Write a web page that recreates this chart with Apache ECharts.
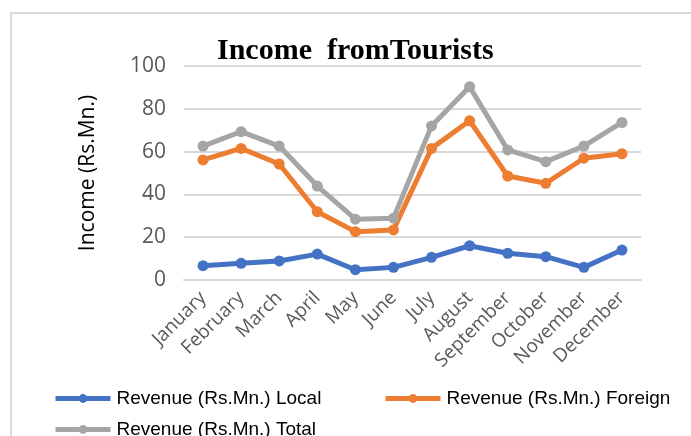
<!DOCTYPE html>
<html>
<head>
<meta charset="utf-8">
<script src="https://cdn.jsdelivr.net/npm/echarts@6/dist/echarts.min.js"></script>
<style>
  html, body { margin: 0; padding: 0; background: #fff; }
  #chart { width: 691px; height: 436px; }
</style>
</head>
<body>
<div id="chart"></div>
<script>
var months = ['January', 'February', 'March', 'April', 'May', 'June', 'July', 'August', 'September', 'October', 'November', 'December'];
var localRevenue = [6.7, 7.8, 8.9, 12.1, 4.8, 5.9, 10.6, 16.0, 12.5, 10.9, 5.9, 14.0];
var foreignRevenue = [56.1, 61.5, 54.2, 31.9, 22.6, 23.4, 61.5, 74.4, 48.6, 45.2, 56.9, 59.0];
var totalRevenue = [62.6, 69.3, 62.6, 43.9, 28.4, 28.9, 72.0, 90.3, 60.8, 55.3, 62.6, 73.6];
var seriesNames = ['Revenue (Rs.Mn.) Local', 'Revenue (Rs.Mn.) Foreign', 'Revenue (Rs.Mn.) Total'];
var seriesColors = ['#4472c4', '#ed7d31', '#a5a5a5'];

var chart = echarts.init(document.getElementById('chart'));
var sansFont = "'Liberation Sans', Arial, sans-serif";

function makeSeries(i, values) {
    return {
        name: seriesNames[i],
        type: 'line',
        data: values,
        symbol: 'circle',
        symbolSize: 11,
        color: seriesColors[i],
        lineStyle: { width: 5, color: seriesColors[i] },
        itemStyle: { color: seriesColors[i] },
        animation: false
    };
}

function makeLegend(name, left, top) {
    return {
        data: [name],
        left: left,
        top: top,
        padding: 0,
        itemWidth: 55,
        itemHeight: 11,
        itemGap: 6,
        lineStyle: { width: 5 },
        textStyle: { fontFamily: sansFont, fontSize: 19, color: '#000', padding: [0, 0, 0, 1] }
    };
}

var option = {
    backgroundColor: '#fff',
    animation: false,
    graphic: [{
        type: 'rect',
        shape: { x: 11, y: 13, width: 720, height: 500 },
        style: { fill: 'none', stroke: '#d9d9d9', lineWidth: 2 },
        silent: true
    }],
    title: {
        text: 'Income  fromTourists',
        left: 217,
        top: 36,
        padding: 0,
        textStyle: {
            fontFamily: "'Liberation Serif', serif",
            fontWeight: 'bold',
            fontSize: 30,
            color: '#000'
        }
    },
    legend: [
        makeLegend(seriesNames[0], 53, 389),
        makeLegend(seriesNames[1], 383, 389),
        makeLegend(seriesNames[2], 53, 420)
    ],
    grid: { left: 184, right: 50, top: 66, bottom: 156 },
    xAxis: {
        type: 'category',
        data: months,
        boundaryGap: true,
        axisLine: { show: true, lineStyle: { color: '#d9d9d9', width: 2 } },
        axisTick: { show: false },
        axisLabel: {
            rotate: 45,
            margin: 15,
            interval: 0,
            color: '#595959',
            fontFamily: "'Open Sans', sans-serif",
            fontSize: 19
        }
    },
    yAxis: {
        type: 'value',
        min: 0,
        max: 100,
        interval: 20,
        name: 'Income (Rs.Mn.)',
        nameLocation: 'middle',
        nameGap: 85,
        nameTextStyle: { color: '#000', fontFamily: "'Open Sans', sans-serif", fontSize: 21 },
        axisLine: { show: false },
        axisTick: { show: false },
        splitLine: { lineStyle: { color: '#d9d9d9', width: 2 } },
        axisLabel: {
            margin: 18,
            color: '#595959',
            fontFamily: "'Open Sans', sans-serif",
            fontSize: 21
        }
    },
    series: [
        makeSeries(0, localRevenue),
        makeSeries(1, foreignRevenue),
        makeSeries(2, totalRevenue)
    ]
};

chart.setOption(option);
</script>
</body>
</html>
